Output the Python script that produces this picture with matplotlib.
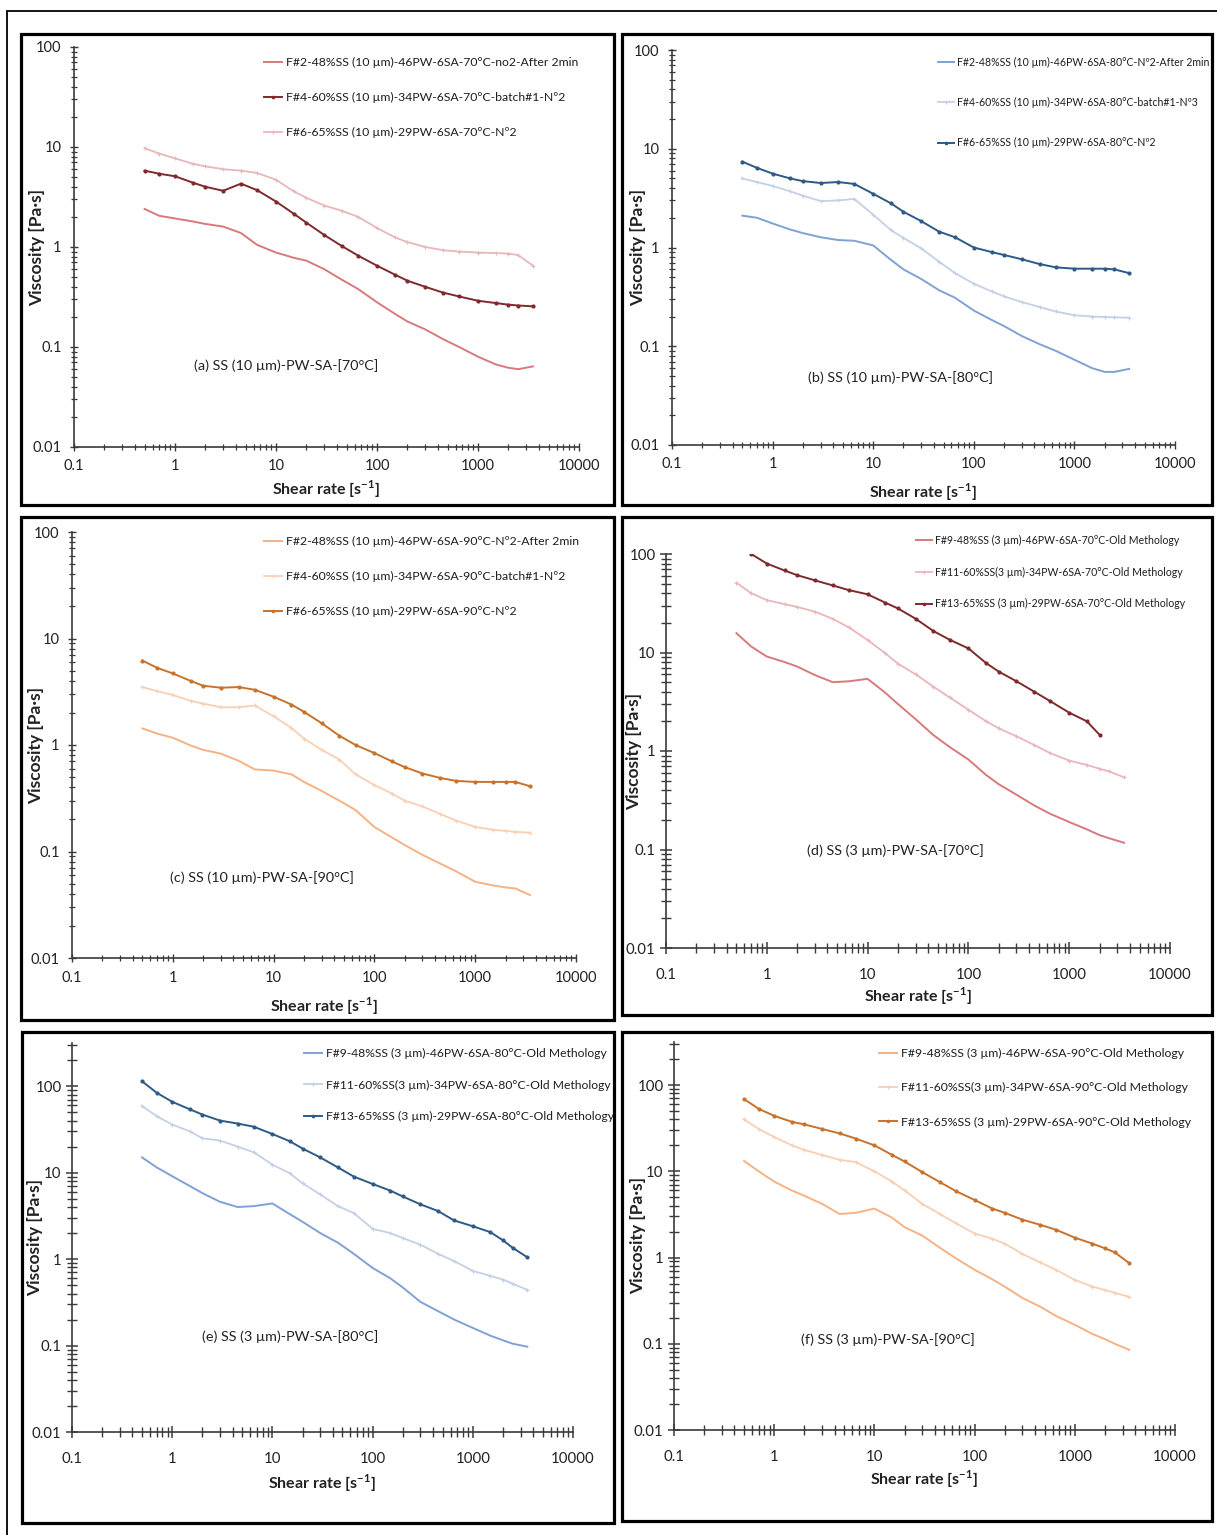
"""Viscosity vs shear rate curves, six panels (SS 10 um / 3 um at 70, 80, 90 C)"""
import numpy as np
import matplotlib
matplotlib.use('Agg')
import matplotlib.pyplot as plt
from matplotlib.patches import Rectangle
from matplotlib.ticker import LogLocator, FuncFormatter, NullFormatter

plt.rcParams['font.family'] = ['Lato', 'DejaVu Sans']
plt.rcParams['mathtext.fontset'] = 'custom'
plt.rcParams['mathtext.rm'] = 'Lato'
plt.rcParams['mathtext.bf'] = 'Lato:bold'

W, H = 1217, 1535
nan = np.nan

# shear rate [1/s], shared by all series
shear = [0.5, 0.7, 1, 1.5, 2, 3, 4.5, 6.5, 10, 15, 20, 30, 45, 65, 100, 150,
         200, 300, 450, 650, 1000, 1500, 2000, 2500, 3500]

# (a) 10 um, 70C
a_f2 = [2.4, 2.05, 1.93, 1.8, 1.7, 1.6, 1.38, 1.05, 0.88, 0.78, 0.73, 0.6, 0.47, 0.38, 0.28,
        0.215, 0.18, 0.15, 0.12, 0.1, 0.08, 0.067, 0.062, 0.06, 0.064]
a_f4 = [5.8, 5.4, 5.1, 4.4, 4.0, 3.65, 4.3, 3.7, 2.85, 2.15, 1.75, 1.32, 1.02, 0.82, 0.65,
        0.53, 0.46, 0.40, 0.35, 0.32, 0.29, 0.275, 0.265, 0.26, 0.255]
a_f6 = [9.7, 8.6, 7.7, 6.8, 6.4, 6.0, 5.8, 5.5, 4.7, 3.6, 3.1, 2.6, 2.3, 2.0, 1.55,
        1.25, 1.12, 1.0, 0.93, 0.9, 0.88, 0.87, 0.86, 0.83, 0.65]

# (b) 10 um, 80C
b_f2 = [2.1, 2.0, 1.75, 1.52, 1.4, 1.27, 1.19, 1.17, 1.05, 0.75, 0.6, 0.48, 0.37, 0.31, 0.23,
        0.185, 0.16, 0.127, 0.105, 0.09, 0.073, 0.06, 0.055, 0.055, 0.059]
b_f4 = [5.0, 4.6, 4.2, 3.7, 3.35, 2.95, 3.0, 3.1, 2.15, 1.5, 1.25, 0.98, 0.72, 0.55, 0.43,
        0.36, 0.32, 0.28, 0.25, 0.225, 0.206, 0.2, 0.198, 0.196, 0.195]
b_f6 = [7.4, 6.4, 5.6, 5.0, 4.7, 4.5, 4.6, 4.4, 3.5, 2.8, 2.3, 1.85, 1.45, 1.27, 1.0,
        0.9, 0.84, 0.76, 0.68, 0.63, 0.61, 0.61, 0.61, 0.6, 0.55]

# (c) 10 um, 90C
c_f2 = [1.43, 1.28, 1.17, 0.99, 0.9, 0.83, 0.71, 0.59, 0.575, 0.53, 0.45, 0.37, 0.3, 0.245, 0.17,
        0.135, 0.115, 0.093, 0.077, 0.065, 0.052, 0.048, 0.046, 0.045, 0.039]
c_f4 = [3.5, 3.2, 2.95, 2.6, 2.45, 2.26, 2.26, 2.35, 1.86, 1.45, 1.15, 0.9, 0.73, 0.53, 0.42,
        0.35, 0.3, 0.265, 0.225, 0.195, 0.17, 0.16, 0.156, 0.153, 0.15]
c_f6 = [6.2, 5.3, 4.7, 4.0, 3.6, 3.45, 3.5, 3.3, 2.84, 2.4, 2.05, 1.6, 1.22, 1.0, 0.84,
        0.7, 0.62, 0.54, 0.49, 0.46, 0.45, 0.45, 0.45, 0.45, 0.41]

# (d) 3 um, 70C
d_f9 = [15.7, 11.5, 9.1, 8.0, 7.2, 5.9, 5.0, 5.1, 5.4, 3.9, 3.0, 2.1, 1.45, 1.1, 0.82,
        0.57, 0.46, 0.36, 0.28, 0.23, 0.19, 0.16, 0.14, 0.13, 0.117]
d_f11 = [51, 40, 34, 31, 29, 26, 22, 18, 13.4, 9.8, 7.7, 6.0, 4.5, 3.5, 2.63,
         2.0, 1.7, 1.41, 1.15, 0.95, 0.8, 0.72, 0.66, 0.62, 0.54]
d_f13 = [nan, 100, 80, 68, 61, 54, 48, 43, 39, 32, 28, 22, 16.5, 13.5, 11,
         7.8, 6.4, 5.1, 4.0, 3.2, 2.45, 2.0, 1.46, nan, nan]

# (e) 3 um, 80C
e_f9 = [15, 11.5, 9.1, 7.0, 5.8, 4.6, 4.0, 4.1, 4.4, 3.3, 2.7, 2.0, 1.55, 1.15, 0.79,
        0.6, 0.47, 0.32, 0.25, 0.2, 0.16, 0.13, 0.115, 0.105, 0.097]
e_f11 = [59, 45, 36, 30, 25, 23.5, 20, 17.2, 12.4, 9.8, 7.5, 5.6, 4.1, 3.4, 2.24,
         2.0, 1.75, 1.47, 1.15, 0.95, 0.73, 0.64, 0.58, 0.52, 0.44]
e_f13 = [114, 84, 66, 54, 47, 40, 37, 34, 28, 23, 19, 15, 11.5, 9.0, 7.4,
         6.2, 5.3, 4.3, 3.6, 2.8, 2.4, 2.05, 1.65, 1.35, 1.05]

# (f) 3 um, 90C
f_f9 = [13.2, 10, 7.6, 6.0, 5.2, 4.2, 3.2, 3.3, 3.7, 2.9, 2.25, 1.8, 1.3, 0.98, 0.72,
        0.56, 0.46, 0.34, 0.27, 0.21, 0.166, 0.13, 0.113, 0.1, 0.085]
f_f11 = [40, 31, 25, 20, 17.7, 15.5, 13.6, 12.8, 10, 7.6, 6.0, 4.2, 3.2, 2.5, 1.9,
         1.65, 1.45, 1.1, 0.88, 0.72, 0.55, 0.46, 0.42, 0.39, 0.35]
f_f13 = [69, 53, 44, 37.5, 35, 31, 27.5, 24, 20, 15.5, 13, 9.8, 7.5, 5.9, 4.65,
         3.7, 3.3, 2.75, 2.4, 2.1, 1.7, 1.45, 1.28, 1.15, 0.86]

labels_a = ['F#2-48%SS (10 µm)-46PW-6SA-70°C-no2-After 2min',
            'F#4-60%SS (10 µm)-34PW-6SA-70°C-batch#1-Nº2',
            'F#6-65%SS (10 µm)-29PW-6SA-70°C-Nº2']
labels_b = ['F#2-48%SS (10 µm)-46PW-6SA-80°C-Nº2-After 2min',
            'F#4-60%SS (10 µm)-34PW-6SA-80°C-batch#1-Nº3',
            'F#6-65%SS (10 µm)-29PW-6SA-80°C-Nº2']
labels_c = ['F#2-48%SS (10 µm)-46PW-6SA-90°C-Nº2-After 2min',
            'F#4-60%SS (10 µm)-34PW-6SA-90°C-batch#1-Nº2',
            'F#6-65%SS (10 µm)-29PW-6SA-90°C-Nº2']
labels_d = ['F#9-48%SS (3 µm)-46PW-6SA-70°C-Old Methology',
            'F#11-60%SS(3 µm)-34PW-6SA-70°C-Old Methology',
            'F#13-65%SS (3 µm)-29PW-6SA-70°C-Old Methology']
labels_e = ['F#9-48%SS (3 µm)-46PW-6SA-80°C-Old Methology',
            'F#11-60%SS(3 µm)-34PW-6SA-80°C-Old Methology',
            'F#13-65%SS (3 µm)-29PW-6SA-80°C-Old Methology']
labels_f = ['F#9-48%SS (3 µm)-46PW-6SA-90°C-Old Methology',
            'F#11-60%SS(3 µm)-34PW-6SA-90°C-Old Methology',
            'F#13-65%SS (3 µm)-29PW-6SA-90°C-Old Methology']

titles = ['(a) SS (10 µm)-PW-SA-[70°C]', '(b) SS (10 µm)-PW-SA-[80°C]',
          '(c) SS (10 µm)-PW-SA-[90°C]', '(d) SS (3 µm)-PW-SA-[70°C]',
          '(e) SS (3 µm)-PW-SA-[80°C]', '(f) SS (3 µm)-PW-SA-[90°C]']

# colours per panel, in legend order
reds = ['#d8797b', '#7e2a2c', '#e9b6ba']
reds_d = ['#d8797b', '#e9b6ba', '#7e2a2c']
blues = ['#7fa2d4', '#c3d0e6', '#2d5a86']
oranges = ['#f6b184', '#f9cfb4', '#c8722c']

# layout in pixels: box (l, t, r, b), axes (l, t, r, b), ymax,
# legend (x, top, fontsize, spacing), title (x, y), ylabel x, xlabel y, big ticks
panels = [
    dict(data=[a_f2, a_f4, a_f6], labels=labels_a, colors=reds, marks=[None, 'o', '+'],
         box=(21, 34, 614, 505), ax=(74, 47, 579, 447), ymax=100,
         leg=(264, 57, 8.8, 1.95), title=(286, 366), ylab=37, xlab=489, big=False),
    dict(data=[b_f2, b_f4, b_f6], labels=labels_b, colors=blues, marks=[None, '+', 'o'],
         box=(622, 34, 1212, 505), ax=(672, 50, 1175, 445), ymax=100,
         leg=(938, 57, 7.6, 2.75), title=(900, 378), ylab=638, xlab=492, big=False),
    dict(data=[c_f2, c_f4, c_f6], labels=labels_c, colors=oranges, marks=[None, '+', 'o'],
         box=(21, 517, 614, 1020), ax=(72, 532, 576, 958), ymax=100,
         leg=(264, 536, 8.8, 1.95), title=(262, 878), ylab=36, xlab=1006, big=False),
    dict(data=[d_f9, d_f11, d_f13], labels=labels_d, colors=reds_d, marks=[None, '+', 'o'],
         box=(622, 517, 1212, 1015), ax=(666, 554, 1170, 948), ymax=100,
         leg=(916, 535, 7.6, 1.95), title=(895, 851), ylab=634, xlab=996, big=True),
    dict(data=[e_f9, e_f11, e_f13], labels=labels_e, colors=blues, marks=[None, '+', 'o'],
         box=(22, 1032, 614, 1523), ax=(72, 1043, 573, 1432), ymax=316,
         leg=(304, 1048, 8.7, 1.7), title=(290, 1337), ylab=35, xlab=1483, big=True),
    dict(data=[f_f9, f_f11, f_f13], labels=labels_f, colors=oranges, marks=[None, '+', 'o'],
         box=(622, 1032, 1212, 1521), ax=(674, 1042, 1175, 1430), ymax=316,
         leg=(879, 1048, 8.8, 1.9), title=(888, 1340), ylab=638, xlab=1479, big=True),
]


def frac_rect(l, t, r, b):
    return [l / W, 1 - b / H, (r - l) / W, (b - t) / H]


fig = plt.figure(figsize=(W / 100, H / 100), dpi=100)

# outer frame (only top and left edges fall inside the picture)
fig.patches.append(Rectangle((7 / W, 1 - 1600 / H), 1300 / W, (1600 - 11) / H,
                             transform=fig.transFigure, fill=False, lw=1.3, ec='black'))

fmt = FuncFormatter(lambda v, p: '%g' % v)

for i, p in enumerate(panels):
    l, t, r, b = p['box']
    fig.patches.append(Rectangle((l / W, 1 - b / H), (r - l) / W, (b - t) / H,
                                 transform=fig.transFigure, fill=False, lw=2.3, ec='black'))
    ax = fig.add_axes(frac_rect(*p['ax']))
    for ys, lab, col, mk in zip(p['data'], p['labels'], p['colors'], p['marks']):
        if mk == 'o':
            ax.plot(shear, ys, color=col, lw=1.4, marker='o', ms=2.0, label=lab)
        elif mk == '+':
            ax.plot(shear, ys, color=col, lw=1.3, marker='+', ms=3, mew=0.8, label=lab)
        else:
            ax.plot(shear, ys, color=col, lw=1.4, label=lab)
    ax.set_xscale('log')
    ax.set_yscale('log')
    ax.set_xlim(0.1, 10000)
    ax.set_ylim(0.01, p['ymax'])
    ax.xaxis.set_major_locator(LogLocator(base=10, numticks=10))
    ax.yaxis.set_major_locator(LogLocator(base=10, numticks=10))
    ax.xaxis.set_minor_locator(LogLocator(base=10, subs=np.arange(2, 10), numticks=20))
    ax.yaxis.set_minor_locator(LogLocator(base=10, subs=np.arange(2, 10), numticks=20))
    ax.xaxis.set_major_formatter(fmt)
    ax.yaxis.set_major_formatter(fmt)
    ax.xaxis.set_minor_formatter(NullFormatter())
    ax.yaxis.set_minor_formatter(NullFormatter())
    for s in ['top', 'right']:
        ax.spines[s].set_visible(False)
    for s in ['left', 'bottom']:
        ax.spines[s].set_color('#3a3a3a')
        ax.spines[s].set_linewidth(1.2)
    if p['big']:
        ax.tick_params(which='major', direction='inout', length=9, width=1.1, colors='#3a3a3a')
        ax.tick_params(which='minor', direction='inout', length=7, width=1.0, colors='#3a3a3a')
        ax.tick_params(which='both', labelcolor='#222222', labelsize=10.8)
        ax.tick_params(axis='y', pad=3)
        ax.tick_params(axis='x', pad=10)
    else:
        ax.tick_params(which='major', direction='inout', length=6, width=1.0, colors='#3a3a3a')
        ax.tick_params(which='minor', direction='inout', length=4, width=0.9, colors='#3a3a3a')
        ax.tick_params(which='both', labelcolor='#222222', labelsize=10.5, pad=6)
    ax.patch.set_alpha(0)

    lx, ly, fs, ls = p['leg']
    ax.legend(loc='upper left', bbox_to_anchor=(lx / W, 1 - ly / H),
              bbox_transform=fig.transFigure, frameon=False, fontsize=fs,
              handlelength=1.5, handletextpad=0.3, labelspacing=ls,
              borderaxespad=0, borderpad=0, markerscale=0.8, labelcolor='#1e1e1e')

    tx, ty = p['title']
    fig.text(tx / W, 1 - ty / H, titles[i], ha='center', va='center', fontsize=10.4, color='#222222')
    al, at, ar, ab = p['ax']
    fig.text(p['ylab'] / W, 1 - (at + ab) / 2 / H, 'Viscosity [Pa·s]', rotation=90,
             ha='center', va='center', fontsize=12.5, fontweight='bold', color='#222222')
    fig.text((al + ar) / 2 / W, 1 - p['xlab'] / H, r'Shear rate [s$^{\mathbf{-1}}$]',
             ha='center', va='center', fontsize=11.5, fontweight='bold', color='#222222')

fig.savefig('out.png', dpi=100)
